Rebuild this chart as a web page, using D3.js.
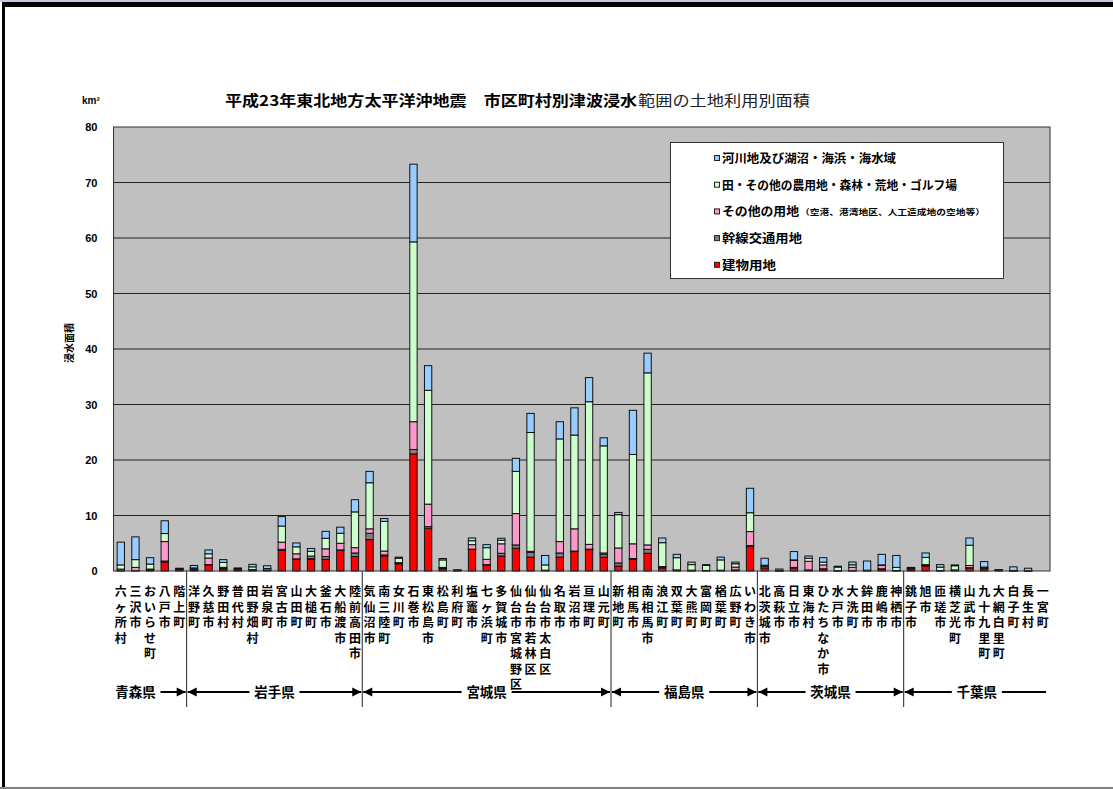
<!DOCTYPE html>
<html>
<head>
<meta charset="utf-8">
<script src="https://cdn.jsdelivr.net/npm/d3@7"></script>
<style>
    body { margin: 0; background: #fff; }
    svg { display: block; }
</style>
</head>
<body>
<div id="chart"></div>
<script>
// municipalities, west-to-east order as in the source chart
const municipalities = [
    "六ヶ所村", "三沢市", "おいらせ町", "八戸市", "階上町",
    "洋野町", "久慈市", "野田村", "普代村", "田野畑村", "岩泉町", "宮古市", "山田町", "大槌町", "釜石市", "大船渡市", "陸前高田市",
    "気仙沼市", "南三陸町", "女川町", "石巻市", "東松島市", "松島町", "利府町", "塩竈市", "七ヶ浜町", "多賀城市",
    "仙台市宮城野区", "仙台市若林区", "仙台市太白区", "名取市", "岩沼市", "亘理町", "山元町",
    "新地町", "相馬市", "南相馬市", "浪江町", "双葉町", "大熊町", "富岡町", "楢葉町", "広野町", "いわき市",
    "北茨城市", "高萩市", "日立市", "東海村", "ひたちなか市", "水戸市", "大洗町", "鉾田市", "鹿嶋市", "神栖市",
    "銚子市", "旭市", "匝瑳市", "横芝光町", "山武市", "九十九里町", "大網白里町", "白子町", "長生村", "一宮町"
];

const prefNames = ["青森県", "岩手県", "宮城県", "福島県", "茨城県", "千葉県"];
const prefCounts = [5, 12, 17, 10, 10, 10];

// km2
const building = [
    0.05, 0.05, 0.2, 1.6, 0.25,
    0.2, 1.1, 0.35, 0.2, 0.1, 0.1, 3.7, 2.1, 2.1, 2.1, 3.7, 2.6,
    5.65, 2.7, 1.3, 21.1, 7.7, 0.4, 0.05, 3.9, 1.1, 2.7,
    4.1, 2.5, 0.1, 2.5, 3.5, 3.85, 2.5,
    0.9, 2.1, 3.2, 0.55, 0.1, 0.05, 0.05, 0.1, 0.15, 4.4,
    0.55, 0.02, 0.55, 0.15, 0.35, 0.02, 0.05, 0.05, 0.3, 0.05,
    0.3, 0.9, 0.05, 0.1, 0.55, 0.4, 0.1, 0.02, 0.01, 0
];
const roads = [
    0, 0, 0.05, 0.2, 0.05,
    0.05, 0.05, 0.1, 0.05, 0.05, 0.05, 0.2, 0.1, 0.2, 0.5, 0.1, 0.65,
    1.15, 0.2, 0.15, 0.8, 0.3, 0.15, 0.05, 0.05, 0.05, 0.5,
    0.6, 0.85, 0.02, 0.75, 0.1, 0.1, 0.5,
    0.55, 0.15, 0.7, 0.2, 0.05, 0.05, 0.03, 0.02, 0.05, 0.2,
    0.3, 0.02, 0.1, 0.05, 0.05, 0.02, 0.02, 0.02, 0.1, 0.02,
    0.1, 0.1, 0.02, 0.05, 0.05, 0.1, 0.05, 0.01, 0.01, 0
];
const otherUse = [
    0.3, 0.6, 0.1, 3.5, 0.05,
    0.1, 1.2, 0.2, 0.05, 0.1, 0.05, 1.3, 0.9, 0.4, 1.4, 1.2, 0.95,
    0.8, 0.7, 0.05, 5.0, 4.05, 0.1, 0.02, 0.8, 0.95, 1.7,
    5.65, 0.2, 0.03, 2.05, 4.0, 0.85, 0.25,
    2.7, 2.65, 0.8, 0.05, 0.05, 0.05, 0.02, 0.03, 0.5, 2.5,
    0.1, 0.02, 1.25, 1.55, 0.7, 0.02, 0.6, 0.03, 0.6, 0.03,
    0.1, 0.15, 0.03, 0.05, 0.4, 0.1, 0.02, 0.02, 0.01, 0
];
const farmForest = [
    0.75, 1.4, 0.9, 1.45, 0.1,
    0.2, 0.75, 0.9, 0.15, 0.5, 0.25, 2.9, 1.25, 0.85, 1.9, 1.8, 6.45,
    8.3, 5.35, 0.8, 32.4, 20.5, 1.35, 0.05, 0.7, 2.1, 0.65,
    7.6, 21.4, 0.95, 18.5, 16.9, 25.7, 19.3,
    6.0, 16.1, 31.0, 4.3, 2.2, 1.0, 0.9, 1.85, 0.6, 3.4,
    0.1, 0.05, 0.1, 0.55, 0.5, 0.65, 0.45, 0.05, 0.1, 0.55,
    0.1, 1.3, 0.6, 0.75, 3.65, 0.1, 0.02, 0.05, 0.02, 0
];
const water = [
    4.1, 4.1, 1.15, 2.3, 0.05,
    0.45, 0.7, 0.5, 0.1, 0.45, 0.5, 1.7, 0.7, 0.5, 1.25, 1.1, 2.2,
    2.05, 0.5, 0.2, 14.0, 4.45, 0.25, 0.03, 0.5, 0.55, 0.35,
    2.35, 3.45, 1.7, 3.1, 4.9, 4.35, 1.45,
    0.4, 7.95, 3.55, 0.85, 0.6, 0.45, 0.15, 0.5, 0.3, 4.4,
    1.25, 0.25, 1.5, 0.4, 0.8, 0.15, 0.5, 1.65, 1.9, 2.15,
    0.05, 0.8, 0.45, 0.15, 1.3, 1.0, 0.01, 0.65, 0.45, 0
];

const yTicks = [0, 10, 20, 30, 40, 50, 60, 70, 80];

const seriesKeys = ["building", "roads", "otherUse", "farmForest", "water"];
const seriesColors = ["#ff0000", "#808080", "#ff99cc", "#ccffcc", "#99ccff"];
const legendLabels = [
    "河川地及び湖沼・海浜・海水域",
    "田・その他の農用地・森林・荒地・ゴルフ場",
    "その他の用地",
    "幹線交通用地",
    "建物用地"
];
const legendNote = "（空港、港湾地区、人工造成地の空地等）";

const width = 1113, height = 789;
const plot = { left: 113.5, right: 1050, top: 127, bottom: 571 };
const jp = "'Noto Sans CJK JP', 'Noto Sans', sans-serif";

const svg = d3.select("#chart").append("svg")
    .attr("width", width)
    .attr("height", height);

// page frame
svg.append("rect").attr("x", 0).attr("y", 0).attr("width", width).attr("height", 2).attr("fill", "#c4c8e4");
svg.append("rect").attr("x", 2).attr("y", 2).attr("width", width - 2).attr("height", 5).attr("fill", "#000");
svg.append("rect").attr("x", 2).attr("y", 2).attr("width", 3).attr("height", height - 2).attr("fill", "#000");
svg.append("rect").attr("x", 0).attr("y", height - 2).attr("width", width).attr("height", 2).attr("fill", "#808080");

const rows = municipalities.map((name, i) => ({
    name,
    building: building[i],
    roads: roads[i],
    otherUse: otherUse[i],
    farmForest: farmForest[i],
    water: water[i]
}));

const x = d3.scaleBand()
    .domain(municipalities)
    .range([plot.left, plot.right])
    .paddingInner(0.5)
    .paddingOuter(0.25);

const y = d3.scaleLinear()
    .domain([0, 80])
    .range([plot.bottom, plot.top]);

// plot background
svg.append("rect")
    .attr("x", plot.left).attr("y", plot.top)
    .attr("width", plot.right - plot.left).attr("height", plot.bottom - plot.top)
    .attr("fill", "#c0c0c0");

// gridlines
svg.append("g")
    .selectAll("line")
    .data(yTicks.slice(1, -1))
    .join("line")
    .attr("x1", plot.left).attr("x2", plot.right)
    .attr("y1", d => y(d)).attr("y2", d => y(d))
    .attr("stroke", "#222").attr("stroke-width", 1);

// stacked bars
const stacked = d3.stack().keys(seriesKeys)(rows);
svg.append("g")
    .selectAll("g")
    .data(stacked)
    .join("g")
    .attr("fill", (d, i) => seriesColors[i])
    .selectAll("rect")
    .data(d => d.filter(s => s[1] - s[0] > 0))
    .join("rect")
    .attr("x", d => x(d.data.name))
    .attr("width", x.bandwidth())
    .attr("y", d => y(d[1]))
    .attr("height", d => y(d[0]) - y(d[1]))
    .attr("stroke", "#111")
    .attr("stroke-width", 1);

// plot border
svg.append("rect")
    .attr("x", plot.left).attr("y", plot.top)
    .attr("width", plot.right - plot.left).attr("height", plot.bottom - plot.top)
    .attr("fill", "none").attr("stroke", "#333").attr("stroke-width", 1);

// y axis labels
const yAxis = svg.append("g")
    .attr("transform", `translate(${plot.left},0)`)
    .call(d3.axisLeft(y).tickValues(yTicks).tickSize(0).tickPadding(16));
yAxis.select(".domain").remove();
yAxis.selectAll("text")
    .attr("font-family", "'Liberation Sans', Arial, sans-serif")
    .attr("font-weight", "bold")
    .attr("font-size", 11)
    .attr("fill", "#000");

svg.append("text")
    .attr("x", 82).attr("y", 104)
    .attr("font-family", "'Liberation Sans', Arial, sans-serif")
    .attr("font-weight", "bold").attr("font-size", 10)
    .text("km²");

svg.append("text")
    .attr("transform", "translate(73,343) rotate(-90)")
    .attr("text-anchor", "middle")
    .attr("font-family", jp).attr("font-weight", "bold").attr("font-size", 10)
    .text("浸水面積");

// title
svg.append("text")
    .attr("x", 225).attr("y", 106)
    .attr("font-family", jp).attr("font-weight", "bold").attr("font-size", 14.5)
    .attr("textLength", 412).attr("lengthAdjust", "spacingAndGlyphs")
    .text("平成23年東北地方太平洋沖地震　市区町村別津波浸水");
svg.append("text")
    .attr("x", 638).attr("y", 106)
    .attr("font-family", jp).attr("font-size", 14.5).attr("fill", "#222")
    .attr("textLength", 172).attr("lengthAdjust", "spacingAndGlyphs")
    .text("範囲の土地利用別面積");

// category labels, one character per line
const catLabels = svg.append("g")
    .attr("font-family", jp).attr("font-weight", "bold").attr("font-size", 12)
    .attr("text-anchor", "middle");
municipalities.forEach(name => {
    const cx = x(name) + x.bandwidth() / 2;
    Array.from(name).forEach((ch, i) => {
        catLabels.append("text")
            .attr("x", cx)
            .attr("y", 596 + i * 15.5)
            .text(ch);
    });
});

// prefecture dividers and arrows
const step = x.step();
const bounds = [plot.left];
prefCounts.forEach(c => bounds.push(bounds[bounds.length - 1] + c * step));

svg.append("g")
    .selectAll("line")
    .data(bounds.slice(1, -1))
    .join("line")
    .attr("x1", d => d).attr("x2", d => d)
    .attr("y1", plot.bottom).attr("y2", 707)
    .attr("stroke", "#222").attr("stroke-width", 1);

const arrowY = 692;
const pref = svg.append("g");
prefNames.forEach((name, i) => {
    const x0 = bounds[i], x1 = bounds[i + 1];
    const last = i === prefNames.length - 1;
    const first = i === 0;
    const textW = 44;
    const cx = first ? x0 + textW / 2 : (x0 + x1) / 2;
    pref.append("text")
        .attr("x", cx).attr("y", arrowY + 5)
        .attr("text-anchor", "middle")
        .attr("font-family", jp).attr("font-weight", "bold").attr("font-size", 13.5)
        .text(name);
    const tl = cx - textW / 2 - 3, tr = cx + textW / 2 + 3;
    if (!first) {
        pref.append("line").attr("x1", x0 + 1).attr("x2", tl)
            .attr("y1", arrowY).attr("y2", arrowY)
            .attr("stroke", "#000").attr("stroke-width", 2);
        pref.append("path")
            .attr("d", `M${x0 + 1},${arrowY} L${x0 + 10},${arrowY - 4.5} L${x0 + 10},${arrowY + 4.5} Z`)
            .attr("fill", "#000");
    }
    const rightEnd = last ? 1046 : x1 - 1;
    pref.append("line").attr("x1", tr).attr("x2", rightEnd)
        .attr("y1", arrowY).attr("y2", arrowY)
        .attr("stroke", "#000").attr("stroke-width", 2);
    if (!last) {
        pref.append("path")
            .attr("d", `M${x1 - 1},${arrowY} L${x1 - 10},${arrowY - 4.5} L${x1 - 10},${arrowY + 4.5} Z`)
            .attr("fill", "#000");
    }
});

// legend
const legend = svg.append("g");
legend.append("rect")
    .attr("x", 670.5).attr("y", 142.5).attr("width", 333).attr("height", 136)
    .attr("fill", "#fff").attr("stroke", "#333").attr("stroke-width", 1);
const legendColors = seriesColors.slice().reverse();
const legendWidths = [174, 235, 77, 80, 54];
legendLabels.forEach((label, i) => {
    const cy = 158.5 + i * 26.7;
    legend.append("rect")
        .attr("x", 714.5).attr("y", cy - 3).attr("width", 5).attr("height", 5)
        .attr("fill", legendColors[i]).attr("stroke", "#222").attr("stroke-width", 1);
    legend.append("text")
        .attr("x", 722).attr("y", cy + 4.5)
        .attr("font-family", jp).attr("font-weight", "bold").attr("font-size", 12)
        .attr("textLength", legendWidths[i]).attr("lengthAdjust", "spacingAndGlyphs")
        .text(label);
    if (i === 2) {
        legend.append("text")
            .attr("x", 800).attr("y", cy + 3.5)
            .attr("font-family", jp).attr("font-weight", "bold").attr("font-size", 8)
            .attr("textLength", 185).attr("lengthAdjust", "spacingAndGlyphs")
            .text(legendNote);
    }
});
</script>
</body>
</html>
